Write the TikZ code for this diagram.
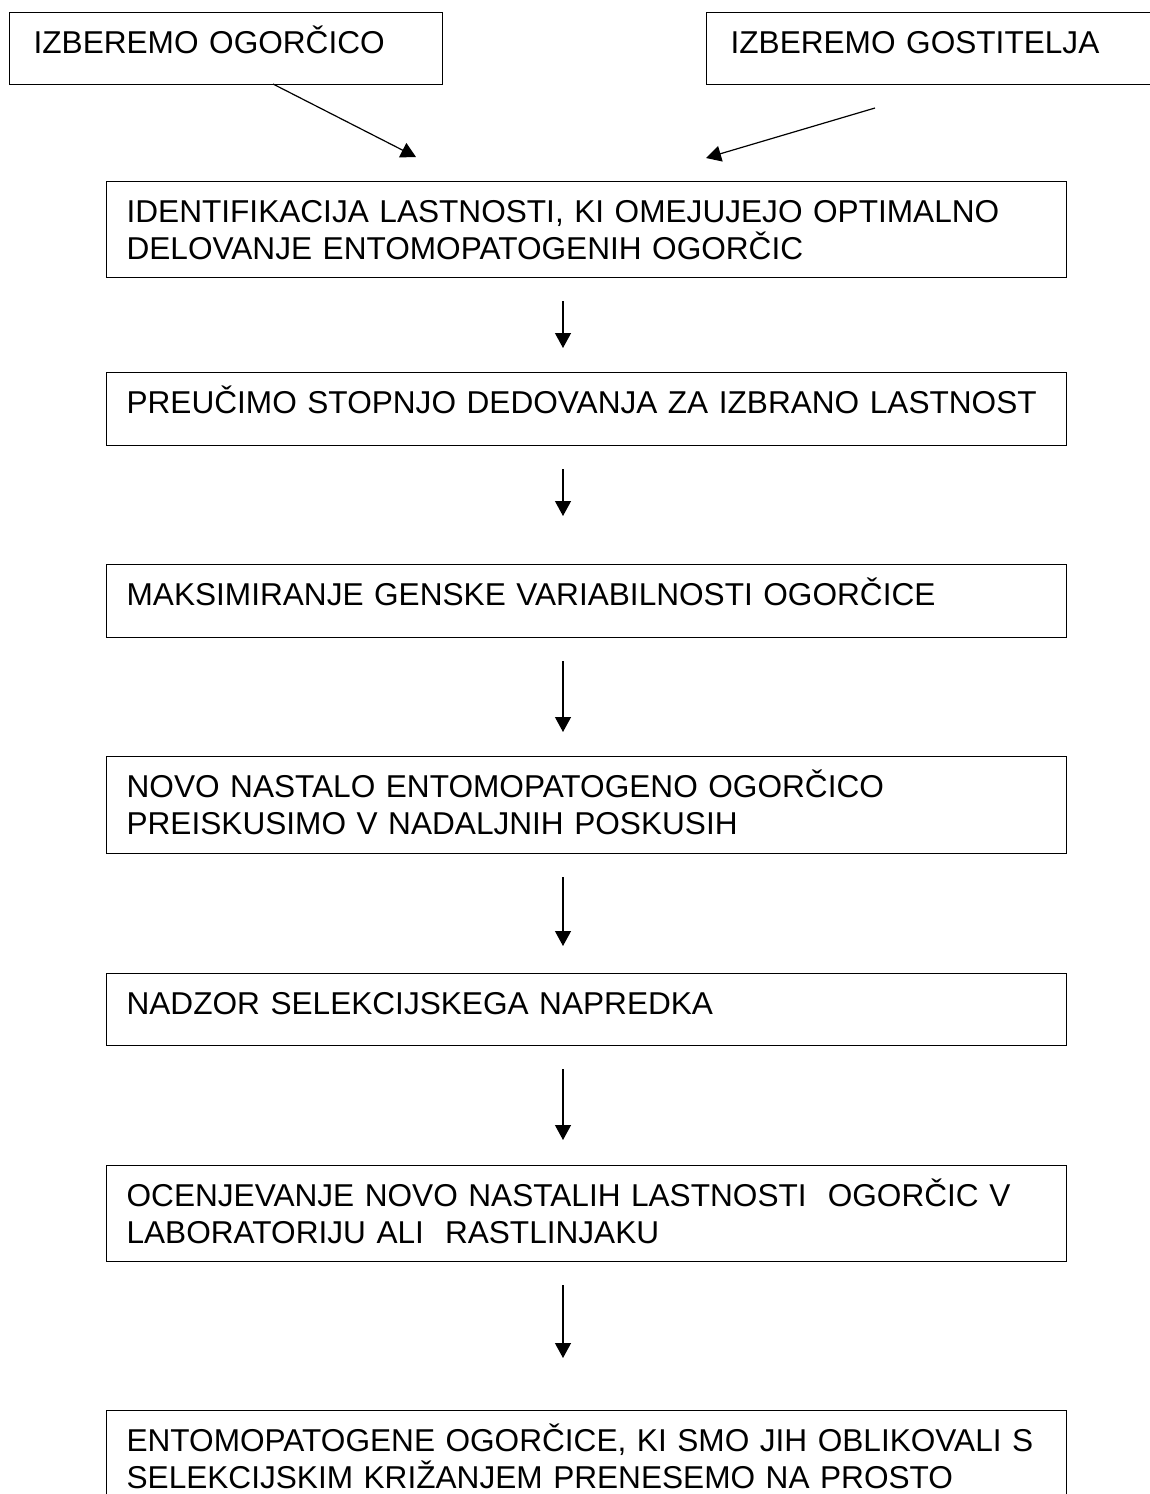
\documentclass[tikz,border=0pt]{standalone}
\usepackage{fontspec}
\setmainfont{Liberation Sans}
\usetikzlibrary{arrows.meta}
\tikzset{
    box/.style={draw, line width=0.6pt, anchor=north west, align=left,
        inner ysep=0pt, font=\fontsize{15.8pt}{18.4pt}\selectfont,
        text height=20.5pt, text depth=16pt},
    pickbox/.style={box, inner xsep=12pt},
    stepbox/.style={box, inner xsep=10pt, text width=460pt},
    twoline/.style={text depth=27.5pt},
    flow/.style={-{Triangle[length=7.5pt,width=8pt]}, line width=0.6pt},
}
\begin{document}
\begin{tikzpicture}[x=0.5pt, y=-0.5pt]
\useasboundingbox (0,0) rectangle (1150,1494);
\clip (0,0) rectangle (1150,1494);
\node[pickbox, text width=192.5pt, text depth=15.5pt] (pickA) at (9,12) {IZBEREMO OGORČICO};
\node[pickbox, text width=210pt, text depth=15.5pt] (pickB) at (706,12) {IZBEREMO GOSTITELJA};
\node[stepbox, twoline] (b1) at (106,181) {IDENTIFIKACIJA LASTNOSTI, KI OMEJUJEJO OPTIMALNO\\DELOVANJE ENTOMOPATOGENIH OGORČIC};
\node[stepbox] (b2) at (106,372) {PREUČIMO STOPNJO DEDOVANJA ZA IZBRANO LASTNOST};
\node[stepbox] (b3) at (106,564) {MAKSIMIRANJE GENSKE VARIABILNOSTI OGORČICE};
\node[stepbox, twoline, text depth=28pt] (b4) at (106,756) {NOVO NASTALO ENTOMOPATOGENO OGORČICO\\PREISKUSIMO V NADALJNIH POSKUSIH};
\node[stepbox, text depth=15.5pt] (b5) at (106,973) {NADZOR SELEKCIJSKEGA NAPREDKA};
\node[stepbox, twoline] (b6) at (106,1165) {OCENJEVANJE NOVO NASTALIH LASTNOSTI \ OGORČIC V\\LABORATORIJU ALI \ RASTLINJAKU};
\node[stepbox, text depth=60pt] (b7) at (106,1410) {ENTOMOPATOGENE OGORČICE, KI SMO JIH OBLIKOVALI S\\SELEKCIJSKIM KRIŽANJEM PRENESEMO NA PROSTO};
\coordinate (tailA) at (273,84);
\coordinate (tipA) at (416,157);
\coordinate (tailB) at (875,108);
\coordinate (tipB) at (706,158);
\coordinate (axis) at (563,0);
\draw[flow] (tailA) -- (tipA);
\draw[flow] (tailB) -- (tipB);
\foreach \from/\to/\gap in {b1/b2/12pt, b2/b3/24pt, b3/b4/12pt, b4/b5/13.5pt, b5/b6/12.5pt, b6/b7/26pt}
    \draw[flow, shorten <=11.5pt, shorten >=\gap] (\from.south -| axis) -- (\to.north -| axis);
\end{tikzpicture}
\end{document}
